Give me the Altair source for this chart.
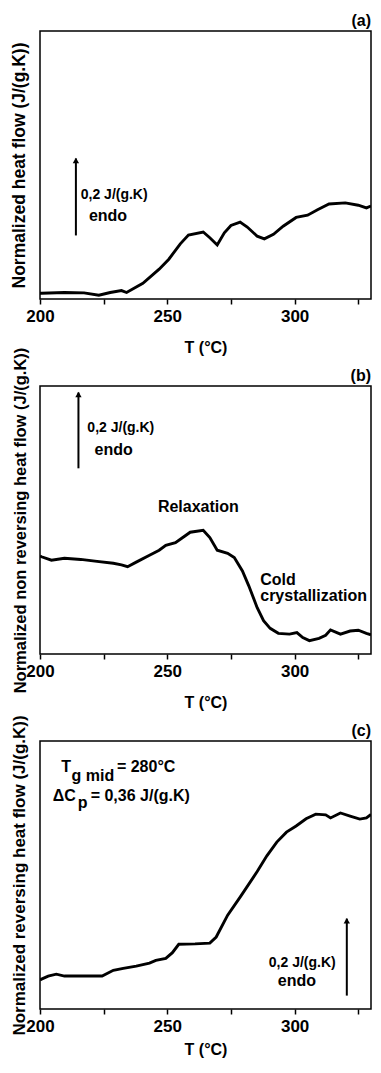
import altair as alt
import pandas as pd

FONT = "Liberation Sans"

# ---- data (T in °C, heat flow in J/(g.K), arbitrary offset) ----
a_T = [200.0, 200.6, 209.6, 217.3, 223.1, 227.6, 232.0, 234.0, 240.4, 246.8, 250.6, 255.1, 258.3,
       264.1, 266.7, 269.6, 272.4, 275.0, 278.6, 281.4, 285.3, 288.1, 291.7, 295.5, 300.6, 305.1,
       309.0, 313.5, 319.9, 325.0, 328.2, 330.0]
a_v = [0.015, 0.015, 0.017, 0.016, 0.010, 0.017, 0.022, 0.017, 0.041, 0.078, 0.104, 0.144, 0.167,
       0.175, 0.160, 0.141, 0.173, 0.192, 0.201, 0.188, 0.164, 0.157, 0.169, 0.190, 0.213, 0.219,
       0.233, 0.248, 0.251, 0.245, 0.238, 0.243]

b_T = [200.0, 200.6, 204.5, 209.6, 216.0, 222.4, 228.8, 232.0, 234.4, 237.8, 243.0, 246.8, 249.4,
       253.2, 255.8, 259.0, 264.1, 266.7, 269.6, 273.7, 276.3, 279.5, 282.0, 285.3, 287.8, 290.4,
       293.6, 298.0, 300.9, 303.2, 305.8, 309.6, 312.2, 314.1, 318.0, 321.8, 325.0, 328.2, 330.0]
b_v = [0.256, 0.254, 0.245, 0.250, 0.247, 0.242, 0.237, 0.233, 0.228, 0.240, 0.258, 0.271, 0.284,
       0.291, 0.303, 0.318, 0.323, 0.304, 0.271, 0.263, 0.252, 0.217, 0.178, 0.121, 0.087, 0.067,
       0.054, 0.052, 0.056, 0.043, 0.035, 0.041, 0.049, 0.063, 0.052, 0.060, 0.062, 0.054, 0.050]

c_T = [200.0, 200.6, 203.2, 206.4, 209.6, 217.3, 224.4, 228.8, 232.7, 237.8, 243.0, 245.5, 249.4,
       252.0, 254.5, 260.9, 266.7, 269.2, 273.7, 278.8, 285.3, 289.1, 293.0, 296.8, 300.6, 304.5,
       308.3, 312.2, 314.1, 318.0, 321.8, 325.6, 328.2, 330.0]
c_v = [0.076, 0.078, 0.086, 0.091, 0.086, 0.086, 0.086, 0.101, 0.106, 0.112, 0.120, 0.127, 0.132,
       0.147, 0.169, 0.170, 0.172, 0.188, 0.245, 0.294, 0.359, 0.400, 0.436, 0.462, 0.478, 0.497,
       0.509, 0.507, 0.499, 0.512, 0.504, 0.496, 0.499, 0.508]

x_ticks = [200, 225, 250, 275, 300, 325]

# arrows: (T, v_bottom, v_top)
a_arrow = [214.1, 0.166, 0.367]
b_arrow = [215.1, 0.485, 0.683]
c_arrow = [320.5, 0.035, 0.236]

# annotations: (label, T, v, fontSize, align)
a_notes = [("0,2 J/(g.K)", 216.0, 0.272, 14, "left"),
           ("endo", 219.2, 0.216, 16, "left")]
b_notes = [("0,2 J/(g.K)", 218.6, 0.590, 14, "left"),
           ("endo", 221.4, 0.533, 16, "left"),
           ("Relaxation", 262.2, 0.384, 16, "center"),
           ("Cold", 286.5, 0.193, 16, "left"),
           ("crystallization", 286.5, 0.152, 16, "left")]
c_notes = [("0,2 J/(g.K)", 303.0, 0.121, 14, "center"),
           ("endo", 300.9, 0.072, 16, "center"),
           ("T", 208.3, 0.631, 16, "left"),
           ("g mid", 212.4, 0.609, 16, "left"),
           ("= 280°C", 230.2, 0.633, 16, "left"),
           ("ΔC", 205.0, 0.557, 16, "left"),
           ("p", 214.8, 0.538, 16, "left"),
           ("= 0,36 J/(g.K)", 219.9, 0.557, 16, "left")]

W, H = 331, 268


def panel(T, v, ytitle, ytsize, tag, arrow, notes, xtpad):
    xenc = alt.X("T:Q",
                 scale=alt.Scale(domain=[200, 330], nice=False, zero=False),
                 axis=alt.Axis(title="T (°C)", values=x_ticks,
                               labelExpr="datum.value % 50 == 0 ? datum.label : ''",
                               labelFlush=False, labelOverlap=False,
                               grid=False, domain=False, tickSize=5, tickWidth=1.5,
                               tickColor="black", labelFontSize=17, labelFont=FONT,
                               labelFontWeight="bold", labelColor="black", labelPadding=4,
                               titleFontSize=16, titleFont=FONT, titleFontWeight="bold",
                               titleColor="black", titlePadding=xtpad))
    yenc = alt.Y("v:Q",
                 scale=alt.Scale(domain=[0, 0.7], nice=False, zero=False),
                 axis=alt.Axis(title=ytitle, labels=False, ticks=False, domain=False, grid=False,
                               titleFontSize=ytsize, titleFont=FONT, titleFontWeight="bold",
                               titleColor="black", titlePadding=12))
    df = pd.DataFrame({"T": T, "v": v})
    line = alt.Chart(df).mark_line(color="black", strokeWidth=2.9, clip=True).encode(x=xenc, y=yenc)
    adf = pd.DataFrame({"T": [arrow[0]], "v": [arrow[1]], "v2": [arrow[2]]})
    rule = alt.Chart(adf).mark_rule(color="black", strokeWidth=2).encode(x=xenc, y=yenc, y2="v2:Q")
    hdf = pd.DataFrame({"T": [arrow[0]], "v": [arrow[2]]})
    head = alt.Chart(hdf).mark_point(shape="triangle-up", filled=True, size=40, color="black",
                                     opacity=1, yOffset=2).encode(x=xenc, y=yenc)
    layers = [line, rule, head]
    for lab, tx, ty, fs, al in notes:
        ndf = pd.DataFrame({"T": [tx], "v": [ty], "label": [lab]})
        layers.append(alt.Chart(ndf).mark_text(align=al, baseline="middle", fontSize=fs,
                                               fontWeight="bold", font=FONT, color="black")
                      .encode(x=xenc, y=yenc, text="label:N"))
    tdf = pd.DataFrame({"label": [tag]})
    layers.append(alt.Chart(tdf).mark_text(align="right", baseline="middle", fontSize=16,
                                           fontWeight="bold", font=FONT, color="black")
                  .encode(x=alt.value(W), y=alt.value(-10), text="label:N"))
    return alt.layer(*layers).properties(width=W, height=H)


pa = panel(a_T, a_v, "Normalized heat flow (J/(g.K))", 17.5, "(a)", a_arrow, a_notes, 15)
pb = panel(b_T, b_v, "Normalized non reversing heat flow (J/(g.K))", 16.5, "(b)", b_arrow, b_notes, 15)
pc = panel(c_T, c_v, "Normalized reversing heat flow (J/(g.K))", 17, "(c)", c_arrow, c_notes, 7)

chart = alt.vconcat(pa, pb, pc, spacing=87, bounds="flush").configure_view(
    stroke="black", strokeWidth=1.5
).properties(padding={"left": 1, "top": 4, "right": 0, "bottom": 0})

chart.save("out.html", embed_options={"renderer": "svg", "actions": False})
